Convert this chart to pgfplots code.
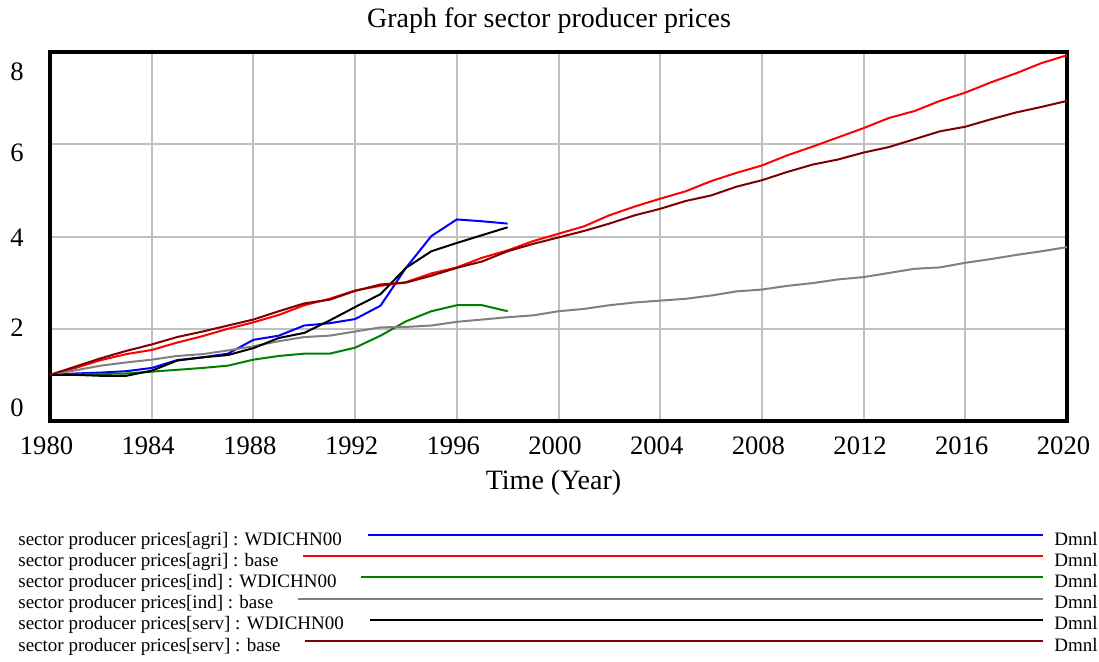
\documentclass[border=0pt]{standalone}
\usepackage{fontspec}
\setmainfont{Liberation Serif}
\usepackage{pgfplots}
\usepackage{pgfplotstable}
\pgfplotsset{compat=1.18}

\definecolor{darkred}{RGB}{128,0,0}
\definecolor{wdigreen}{RGB}{0,128,0}
\definecolor{midgray}{RGB}{128,128,128}
\definecolor{gridgray}{RGB}{192,192,192}

% base run, 1980-2020
\pgfplotstableread{
year agri ind serv
1980 1.00 1.00 1.00
1981 1.15 1.10 1.18
1982 1.32 1.20 1.36
1983 1.45 1.27 1.52
1984 1.54 1.33 1.66
1985 1.70 1.41 1.82
1986 1.84 1.45 1.94
1987 2.00 1.53 2.07
1988 2.14 1.62 2.20
1989 2.30 1.73 2.38
1990 2.51 1.82 2.55
1991 2.65 1.85 2.63
1992 2.83 1.94 2.82
1993 2.93 2.03 2.96
1994 3.01 2.04 3.00
1995 3.20 2.07 3.15
1996 3.33 2.15 3.32
1997 3.54 2.20 3.46
1998 3.70 2.25 3.68
1999 3.90 2.29 3.84
2000 4.06 2.38 3.98
2001 4.22 2.43 4.12
2002 4.46 2.51 4.28
2003 4.65 2.57 4.46
2004 4.82 2.61 4.60
2005 4.98 2.65 4.77
2006 5.20 2.72 4.89
2007 5.38 2.81 5.08
2008 5.54 2.85 5.22
2009 5.76 2.93 5.40
2010 5.95 2.99 5.56
2011 6.15 3.07 5.67
2012 6.35 3.12 5.82
2013 6.57 3.21 5.94
2014 6.72 3.30 6.11
2015 6.94 3.33 6.28
2016 7.12 3.43 6.38
2017 7.34 3.51 6.54
2018 7.54 3.60 6.69
2019 7.76 3.68 6.81
2020 7.93 3.77 6.94
}\basedata

% WDICHN00 run, 1980-1998
\pgfplotstableread{
year agri ind serv
1980 1.00 1.00 1.00
1981 1.03 1.01 1.00
1982 1.05 1.02 0.98
1983 1.08 1.03 0.98
1984 1.15 1.07 1.09
1985 1.32 1.11 1.31
1986 1.38 1.15 1.38
1987 1.46 1.20 1.43
1988 1.76 1.33 1.58
1989 1.85 1.41 1.80
1990 2.07 1.46 1.91
1991 2.12 1.46 2.18
1992 2.21 1.59 2.47
1993 2.50 1.85 2.75
1994 3.32 2.16 3.32
1995 4.01 2.38 3.68
1996 4.37 2.51 3.86
1997 4.33 2.51 4.03
1998 4.28 2.38 4.20
}\wdidata

\begin{document}
\begin{tikzpicture}
\useasboundingbox (0,0) rectangle (549.5pt,330.5pt);

\begin{axis}[
    scale only axis,
    width=508.5pt, height=184.5pt,
    at={(25pt,120pt)}, anchor=south west,
    xmin=1980, xmax=2020, ymin=0, ymax=8,
    xtick={1980,1984,...,2020}, minor x tick num=1,
    xticklabels={1980,1984,1988,1992,1996,2000,2004,2008,2012,2016,2020},
    ytick={0,2,4,6,8},
    yticklabels={\raisebox{2.5pt}{0},\raisebox{-4pt}{2},\raisebox{-5pt}{4},\raisebox{-8.5pt}{6},\raisebox{-14pt}{8}},
    grid=both,
    major grid style={gridgray, line width=1pt},
    minor grid style={gridgray, line width=1pt},
    major tick length=0pt, minor tick length=0pt,
    axis line style={line width=1.6pt},
    tick label style={font=\fontsize{13.3}{15}\selectfont},
    xticklabel style={anchor=base, inner sep=0pt, yshift=-16.7pt, xshift=-1.75pt},
    yticklabel style={anchor=base east, inner sep=0pt, xshift=-13pt},
    every axis plot/.append style={line width=1pt, no markers},
]
\addplot[blue] table[x=year, y=agri] {\wdidata};
\addplot[red] table[x=year, y=agri] {\basedata};
\addplot[wdigreen] table[x=year, y=ind] {\wdidata};
\addplot[midgray] table[x=year, y=ind] {\basedata};
\addplot[black] table[x=year, y=serv] {\wdidata};
\addplot[darkred] table[x=year, y=serv] {\basedata};
\end{axis}

\node[anchor=base, font=\fontsize{14}{16}\selectfont] at (274.5pt,317pt) {Graph for sector producer prices};
\node[anchor=base, font=\fontsize{14}{16}\selectfont] at (276.75pt,86pt) {Time (Year)};

% legend block
\begin{scope}[every node/.style={inner sep=0pt, anchor=base west, font=\fontsize{9.5}{11}\selectfont}]
\node (l1) at (9pt,58pt) {sector producer prices[agri] : WDICHN00};
\node (l2) at (9pt,47.4pt) {sector producer prices[agri] : base};
\node (l3) at (9pt,36.8pt) {sector producer prices[ind] : WDICHN00};
\node (l4) at (9pt,26.2pt) {sector producer prices[ind] : base};
\node (l5) at (9pt,15.6pt) {sector producer prices[serv] : WDICHN00};
\node (l6) at (9pt,5pt) {sector producer prices[serv] : base};
\draw[blue, line width=1pt] ([shift={(13pt,5pt)}]l1.base east) -- (521.5pt,63pt);
\draw[red, line width=1pt] ([shift={(12pt,5pt)}]l2.base east) -- (521.5pt,52.4pt);
\draw[wdigreen, line width=1pt] ([shift={(12pt,5pt)}]l3.base east) -- (521.5pt,41.8pt);
\draw[midgray, line width=1pt] ([shift={(12pt,5pt)}]l4.base east) -- (521.5pt,31.2pt);
\draw[black, line width=1pt] ([shift={(13pt,5pt)}]l5.base east) -- (521.5pt,20.6pt);
\draw[darkred, line width=1pt] ([shift={(12pt,5pt)}]l6.base east) -- (521.5pt,10pt);
\foreach \yy in {58,47.4,36.8,26.2,15.6,5} {
  \node[anchor=base east] at (549pt,\yy pt) {Dmnl};
}
\end{scope}
\end{tikzpicture}
\end{document}
